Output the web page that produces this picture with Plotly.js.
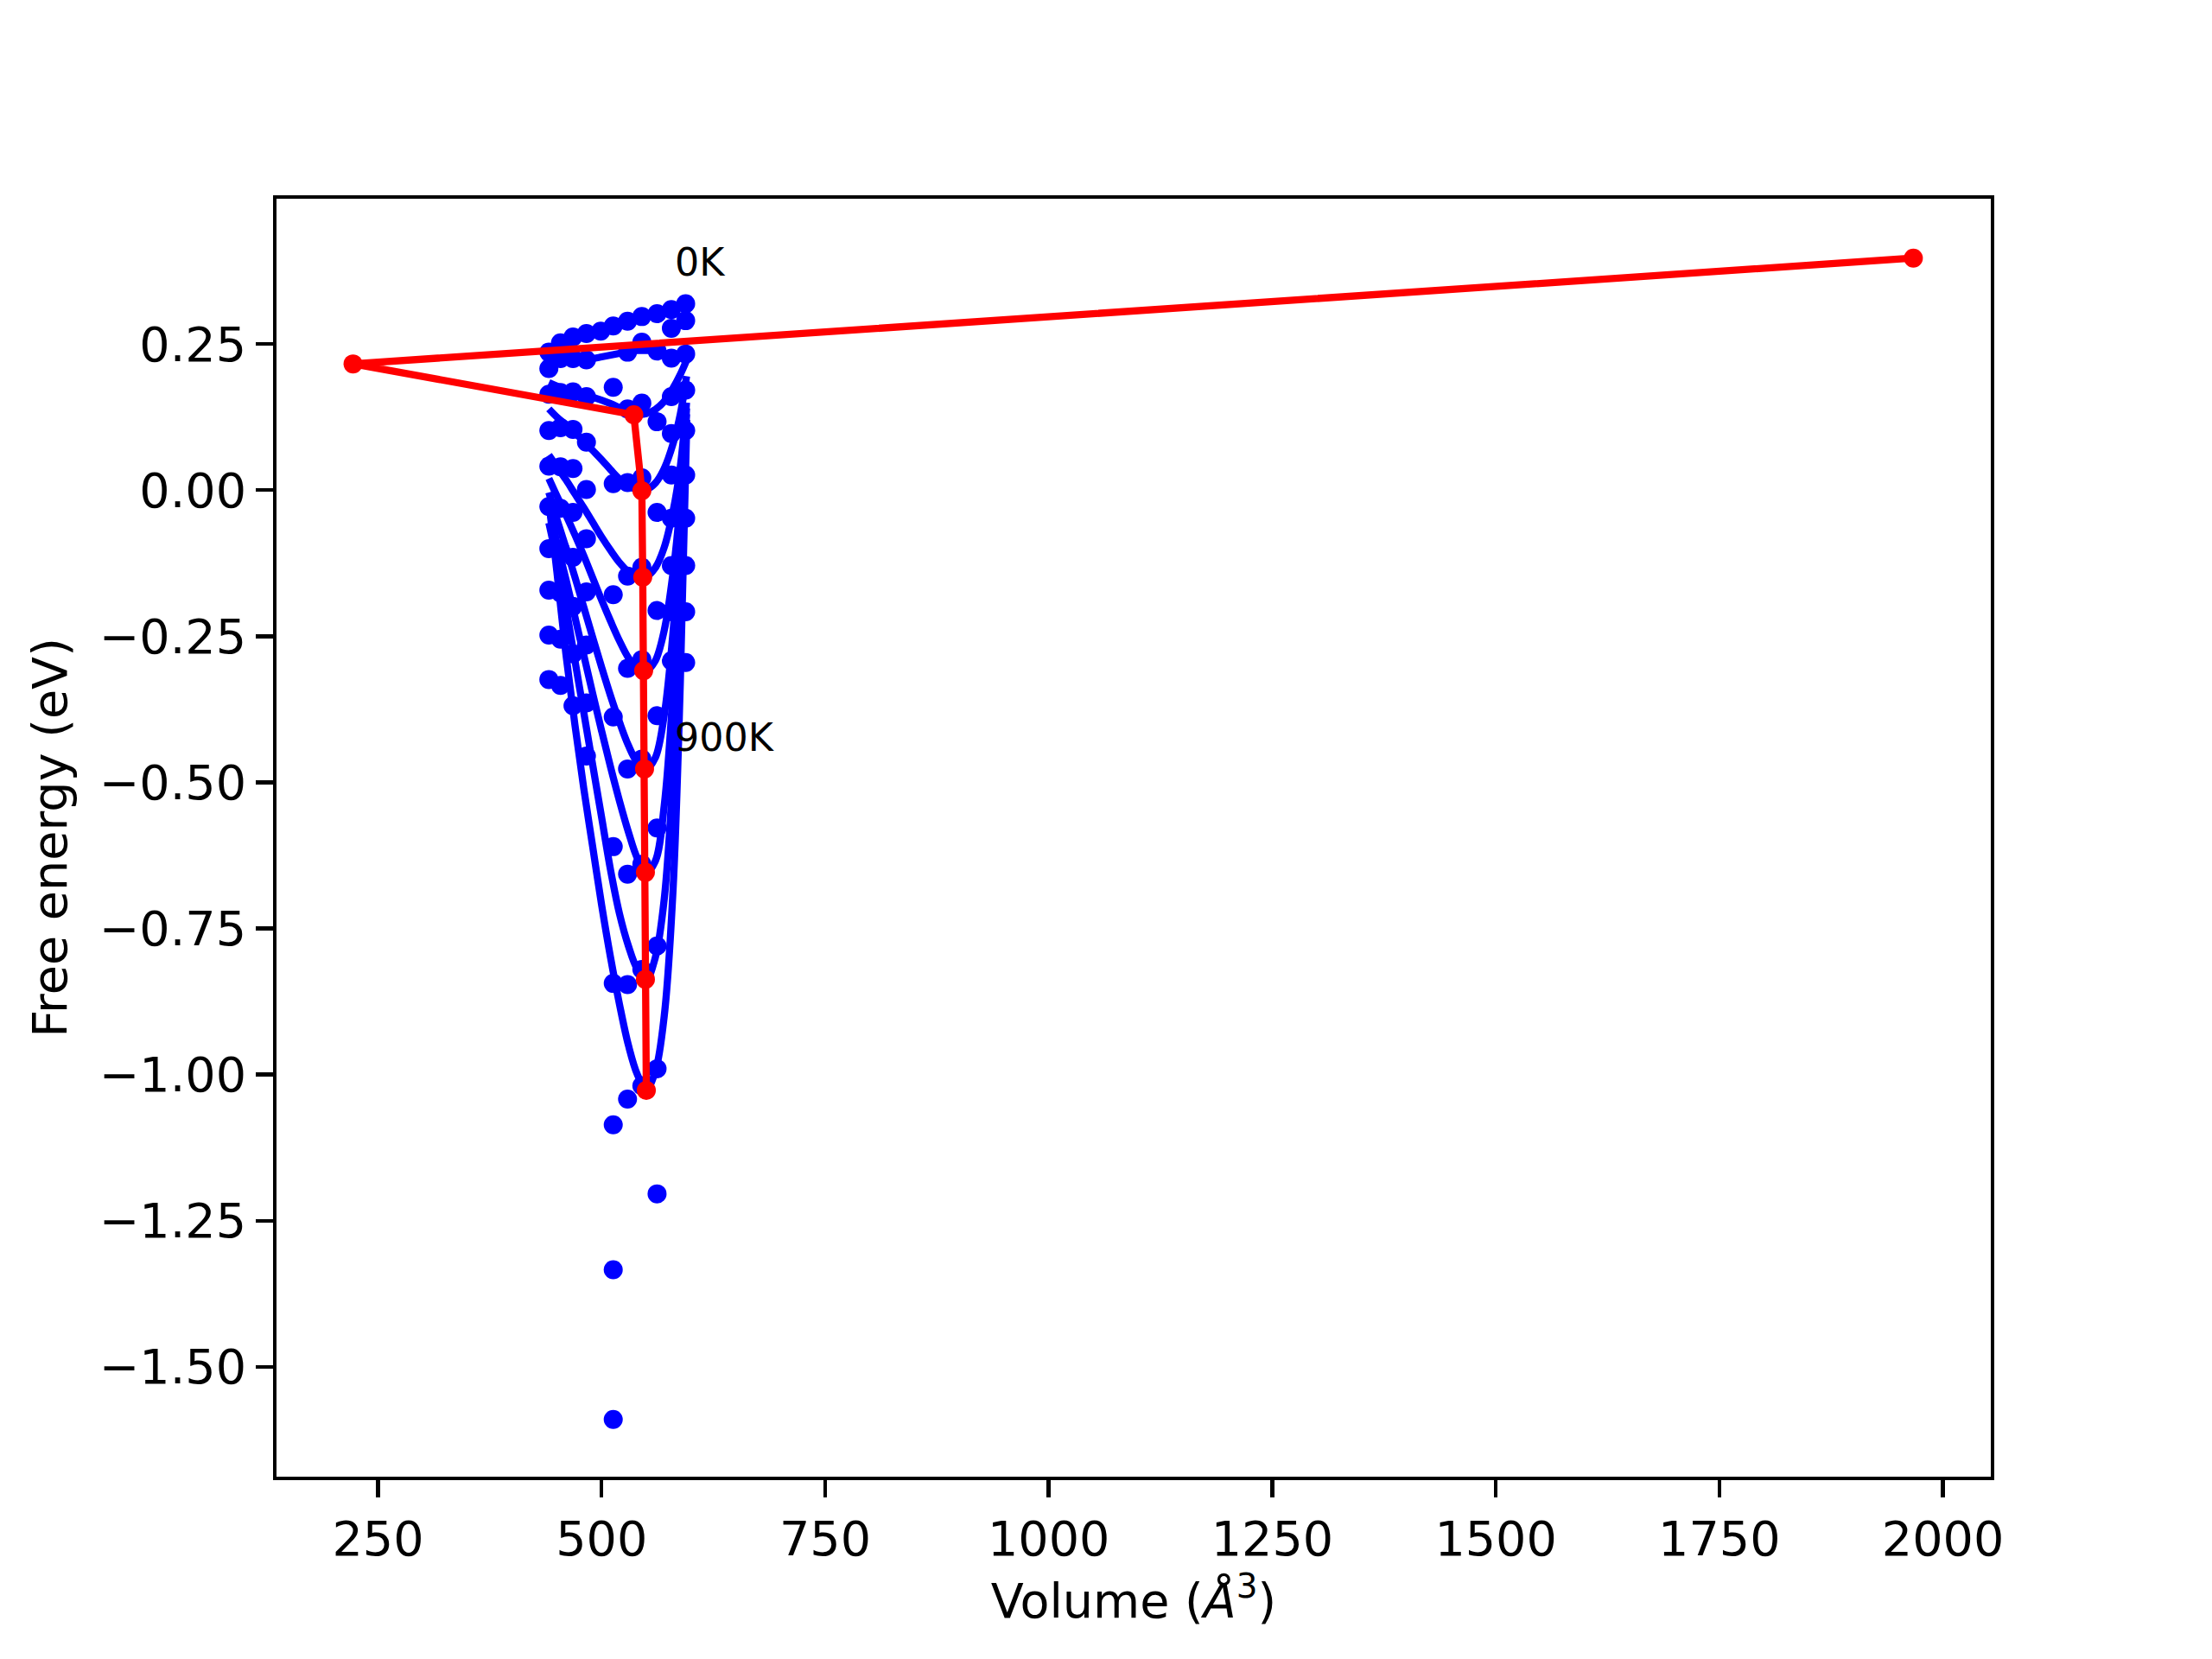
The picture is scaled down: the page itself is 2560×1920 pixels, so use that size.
<!DOCTYPE html>
<html>
<head>
<meta charset="utf-8">
<script src="https://cdn.plot.ly/plotly-3.0.1.min.js"></script>
<style>html,body{margin:0;padding:0;background:#fff;}#chart{width:2560px;height:1920px;}</style>
</head>
<body>
<div id="chart"></div>
<script>
// ---- data ----
const temperatures = ["0K","100K","200K","300K","400K","500K","600K","700K","800K","900K"];

// volumes of the computed points (Å^3)
const volumes = [441, 454, 468, 483, 499, 513, 529, 545, 562, 578, 594];

// computed free energies (eV) per temperature, null = no point
const F_0K   = [0.236, 0.252, 0.262, 0.268, 0.272, 0.281, 0.289, 0.297, 0.302, 0.309, 0.319];
const F_100K = [0.208, 0.225, 0.225, 0.223, null, 0.176, 0.236, 0.253, 0.238, 0.277, 0.290];
const F_200K = [0.164, 0.167, 0.168, 0.160, null, 0.011, 0.139, 0.149, 0.117, 0.226, 0.233];
const F_300K = [0.102, 0.107, 0.104, 0.082, null, -0.179, 0.013, 0.021, -0.038, 0.160, 0.171];
const F_400K = [0.041, 0.040, 0.037, 0.001, null, -0.388, -0.147, -0.132, -0.206, 0.097, 0.102];
const F_500K = [-0.028, -0.031, -0.038, -0.083, null, -0.610, -0.305, -0.290, -0.386, 0.026, 0.026];
const F_600K = [-0.100, -0.102, -0.115, -0.174, null, -0.844, -0.477, -0.460, -0.578, -0.048, -0.048];
const F_700K = [-0.171, -0.176, -0.199, -0.265, null, -1.086, -0.657, -0.640, -0.780, -0.129, -0.129];
const F_800K = [-0.248, -0.255, -0.280, -0.364, null, -1.334, -0.846, -0.820, -0.990, -0.208, -0.208];
const F_900K = [-0.324, -0.334, -0.369, -0.455, null, -1.590, -1.042, -1.019, -1.204, -0.292, -0.295];

// fitted curves
const fitV = [441, 450, 460, 470, 480, 490, 500, 510, 520, 530, 540, 550, 560, 570, 580, 588, 595];
const fit_0K   = [0.238, 0.248, 0.256, 0.262, 0.266, 0.270, 0.273, 0.278, 0.284, 0.289, 0.294, 0.298, 0.301, 0.305, 0.309, 0.314, 0.318];
const fit_100K = [0.233, 0.229, 0.225, 0.223, 0.223, 0.225, 0.228, 0.231, 0.234, 0.237, 0.239, 0.239, 0.238, 0.234, 0.228, 0.228, 0.232];
const fit_200K = [0.184, 0.178, 0.172, 0.167, 0.163, 0.159, 0.154, 0.148, 0.141, 0.134, 0.130, 0.131, 0.138, 0.152, 0.175, 0.198, 0.222];
const fit_300K = [0.139, 0.125, 0.112, 0.098, 0.084, 0.068, 0.052, 0.035, 0.019, 0.007, 0.001, 0.001, 0.012, 0.037, 0.080, 0.130, 0.195];
const fit_400K = [0.060, 0.040, 0.018, -0.006, -0.030, -0.055, -0.080, -0.103, -0.124, -0.140, -0.148, -0.148, -0.133, -0.098, -0.035, 0.040, 0.150];
const fit_500K = [0.020, -0.010, -0.042, -0.076, -0.112, -0.150, -0.188, -0.224, -0.258, -0.287, -0.305, -0.309, -0.292, -0.240, -0.140, -0.020, 0.140];
const fit_600K = [-0.004, -0.050, -0.098, -0.148, -0.200, -0.252, -0.303, -0.352, -0.397, -0.437, -0.466, -0.477, -0.458, -0.385, -0.240, -0.060, 0.130];
const fit_700K = [-0.030, -0.090, -0.152, -0.216, -0.282, -0.348, -0.412, -0.474, -0.532, -0.585, -0.630, -0.654, -0.635, -0.540, -0.340, -0.100, 0.120];
const fit_800K = [-0.056, -0.120, -0.200, -0.290, -0.380, -0.470, -0.560, -0.650, -0.725, -0.780, -0.820, -0.837, -0.800, -0.700, -0.480, -0.180, 0.120];
const fit_900K = [-0.020, -0.140, -0.280, -0.400, -0.510, -0.610, -0.710, -0.800, -0.880, -0.950, -1.000, -1.025, -0.995, -0.900, -0.680, -0.330, 0.100];

// equilibrium (minimum) points per temperature
const minV = [1967, 222, 536, 545, 546, 547, 548, 549, 549, 550];
const minF = [0.397, 0.216, 0.129, -0.001, -0.149, -0.309, -0.477, -0.654, -0.837, -1.027];

// ---- build traces ----
const pointSets = [F_0K, F_100K, F_200K, F_300K, F_400K, F_500K, F_600K, F_700K, F_800K, F_900K];
const fitSets = [fit_0K, fit_100K, fit_200K, fit_300K, fit_400K, fit_500K, fit_600K, fit_700K, fit_800K, fit_900K];
const BLUE = "#0000ff", RED = "#ff0000";
const LW = 8.3, MS = 22;
const traces = [];
pointSets.forEach((F, i) => {
  traces.push({x: volumes, y: F, mode: "markers", type: "scatter",
    marker: {color: BLUE, size: MS}, showlegend: false, hoverinfo: "skip", name: temperatures[i]});
  traces.push({x: fitV, y: fitSets[i], mode: "lines", type: "scatter",
    line: {color: BLUE, width: LW, shape: "spline", smoothing: 1}, showlegend: false, hoverinfo: "skip"});
});
traces.push({x: minV, y: minF, mode: "lines+markers", type: "scatter",
  line: {color: RED, width: LW}, marker: {color: RED, size: MS}, showlegend: false, hoverinfo: "skip"});

const FONT = "DejaVu Sans, sans-serif";
const layout = {
  width: 2560, height: 1920,
  paper_bgcolor: "#ffffff", plot_bgcolor: "#ffffff",
  margin: {l: 320, r: 256, t: 230, b: 211, pad: 0},
  font: {family: FONT, size: 55.6, color: "#000"},
  showlegend: false,
  xaxis: {
    range: [136.4, 2053.6], tick0: 250, dtick: 250, tickmode: "linear",
    showgrid: false, zeroline: false,
    showline: true, mirror: true, linecolor: "#000", linewidth: 4.4,
    ticks: "outside", ticklen: 19.4, tickwidth: 4.4, tickcolor: "#000",
    tickfont: {family: FONT, size: 55.6, color: "#000"},
    title: {text: "Volume (<i>Å</i><sup>3</sup>)", font: {family: FONT, size: 55.6, color: "#000"}, standoff: 20},
    automargin: false
  },
  yaxis: {
    range: [-1.688, 0.4986], tick0: 0, dtick: 0.25, tickmode: "linear", tickformat: ".2f",
    showgrid: false, zeroline: false,
    showline: true, mirror: true, linecolor: "#000", linewidth: 4.4,
    ticks: "outside", ticklen: 19.4, tickwidth: 4.4, tickcolor: "#000",
    tickfont: {family: FONT, size: 55.6, color: "#000"},
    title: {text: "Free energy (eV)", font: {family: FONT, size: 55.6, color: "#000"}, standoff: 20},
    automargin: false
  },
  annotations: [
    {x: 580, y: 0.39, xref: "x", yref: "y", text: "0K", showarrow: false, xanchor: "left", yanchor: "middle",
     font: {family: FONT, size: 44.4, color: "#000"}},
    {x: 580, y: -0.423, xref: "x", yref: "y", text: "900K", showarrow: false, xanchor: "left", yanchor: "middle",
     font: {family: FONT, size: 44.4, color: "#000"}}
  ]
};
Plotly.newPlot("chart", traces, layout, {staticPlot: true, displayModeBar: false});
</script>
</body>
</html>
